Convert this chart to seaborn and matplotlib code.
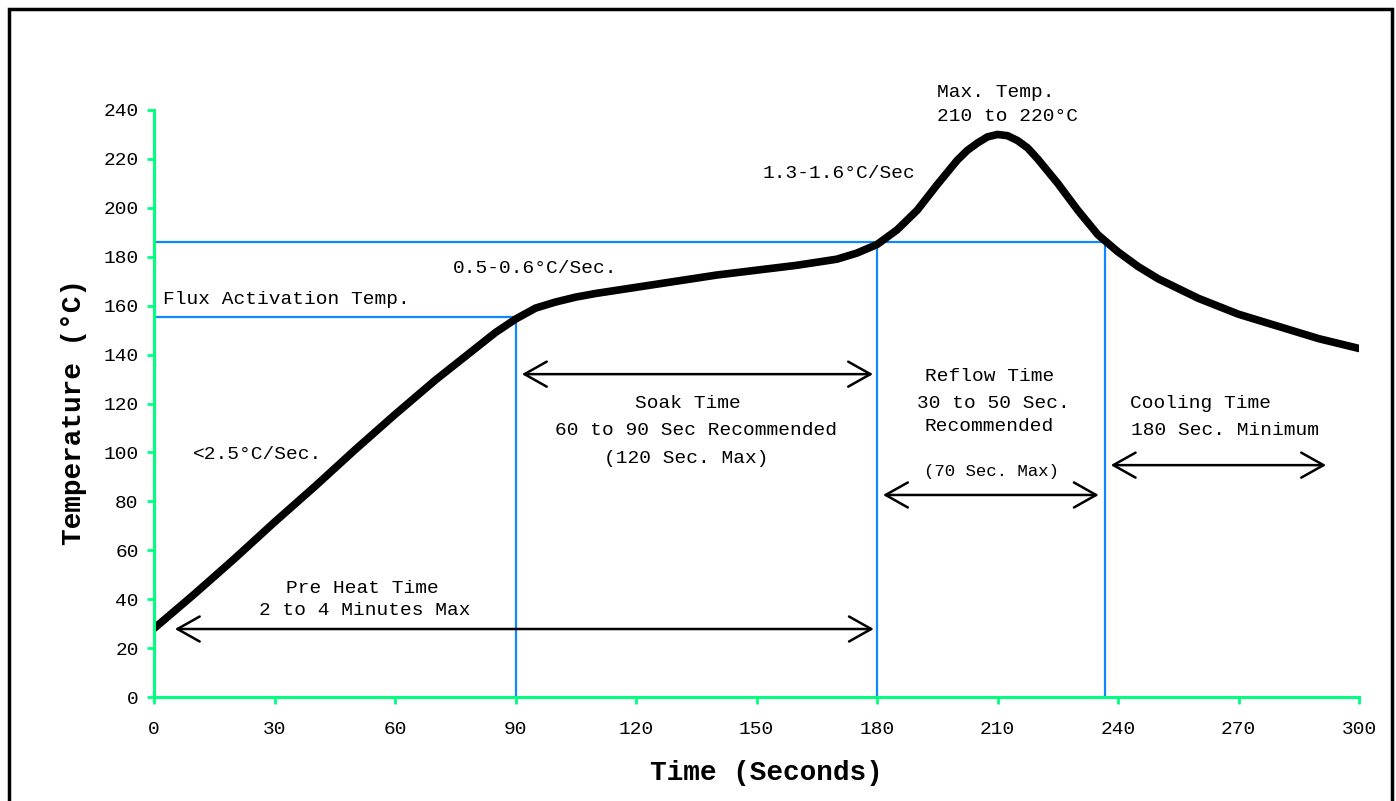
import matplotlib
matplotlib.use("Agg")
import matplotlib.pyplot as plt
import seaborn as sns
from matplotlib.patches import Rectangle

# Reflow profile (time in s, temperature in C)
time_s = [0, 10, 20, 30, 40, 50, 60, 70, 80, 85, 90, 95, 100, 105, 110, 120,
          130, 140, 150, 160, 170, 175, 180, 185, 190, 195, 200, 202.5, 205,
          207.5, 210, 212.5, 215, 217.5, 220, 225, 230, 235, 240, 245, 250,
          260, 270, 280, 290, 300]
temp_c = [28, 42, 56.5, 71.5, 86, 101, 115.5, 129.5, 142.5, 149, 154.5, 159,
          161.5, 163.5, 165, 167.5, 170, 172.5, 174.5, 176.5, 179, 181.5, 185,
          191, 199, 209.5, 219.5, 223.5, 226.5, 229, 230, 229.5, 227.5, 224.5,
          220, 210, 199, 189, 182, 176, 171, 163, 156.5, 151.5, 146.5, 142.5]

x_ticks = [0, 30, 60, 90, 120, 150, 180, 210, 240, 270, 300]
y_ticks = list(range(0, 241, 20))

# guide lines
flux_temp = 155.5
flux_time = 90
reflow_temp = 186
reflow_start = 180
reflow_end = 236.7

# double arrows: (y, x_start, x_end)
arrows = [
    (27.8, 5.2, 179.2),    # pre heat
    (132, 91.6, 179),      # soak
    (82.6, 181.5, 235.2),  # reflow
    (94.8, 238.2, 291.8),  # cooling
]

GREEN = "#00FF80"
BLUE = "#0F87FF"

sns.set_style("white")
plt.rcParams["font.family"] = ["Liberation Mono", "DejaVu Sans Mono"]
plt.rcParams["text.color"] = "black"
plt.rcParams["axes.labelcolor"] = "black"

fig = plt.figure(figsize=(13.96, 8.01), dpi=100)
ax = fig.add_axes([154 / 1396, 1 - 697 / 801, 1205 / 1396, 587 / 801])

# blue guide lines
ax.plot([0, flux_time], [flux_temp, flux_temp], color=BLUE, lw=1.6)
ax.plot([flux_time, flux_time], [0, flux_temp], color=BLUE, lw=1.6)
ax.plot([0, reflow_end], [reflow_temp, reflow_temp], color=BLUE, lw=1.6)
ax.plot([reflow_start, reflow_start], [0, reflow_temp], color=BLUE, lw=1.6)
ax.plot([reflow_end, reflow_end], [0, reflow_temp], color=BLUE, lw=1.6)

# profile curve
sns.lineplot(x=time_s, y=temp_c, ax=ax, color="black", lw=5.5, sort=False,
             solid_joinstyle="round")

for y, x0, x1 in arrows:
    ax.annotate("", xy=(x1, y), xytext=(x0, y),
                arrowprops=dict(arrowstyle="<->,head_length=0.8,head_width=0.45",
                                mutation_scale=20, lw=1.8, color="black",
                                shrinkA=0, shrinkB=0))

fs = 14
ax.text(195, 247, "Max. Temp.", fontsize=fs, ha="left", va="center")
ax.text(195, 237.5, "210 to 220°C", fontsize=fs, ha="left", va="center")
ax.text(151.4, 214, "1.3-1.6°C/Sec", fontsize=fs, ha="left", va="center")
ax.text(74.4, 175, "0.5-0.6°C/Sec.", fontsize=fs, ha="left", va="center")
ax.text(2.2, 162.7, "Flux Activation Temp.", fontsize=fs, ha="left", va="center")
ax.text(9.7, 99.3, "<2.5°C/Sec.", fontsize=fs, ha="left", va="center")

ax.text(133, 119.8, "Soak Time", fontsize=fs, ha="center", va="center")
ax.text(135, 109, "60 to 90 Sec Recommended", fontsize=fs, ha="center", va="center")
ax.text(132.5, 97.7, "(120 Sec. Max)", fontsize=fs, ha="center", va="center")

ax.text(208, 131.2, "Reflow Time", fontsize=fs, ha="center", va="center")
ax.text(209, 120.2, "30 to 50 Sec.", fontsize=fs, ha="center", va="center")
ax.text(208, 110.8, "Recommended", fontsize=fs, ha="center", va="center")
ax.text(208.5, 92, "(70 Sec. Max)", fontsize=12.5, ha="center", va="center")

ax.text(243, 120.2, "Cooling Time", fontsize=fs, ha="left", va="center")
ax.text(243.3, 109, "180 Sec. Minimum", fontsize=fs, ha="left", va="center")

ax.text(52, 44.2, "Pre Heat Time", fontsize=fs, ha="center", va="center")
ax.text(52.5, 35.2, "2 to 4 Minutes Max", fontsize=fs, ha="center", va="center")

ax.set_xlim(0, 300)
ax.set_ylim(0, 240)
ax.set_xticks(x_ticks)
ax.set_yticks(y_ticks)
ax.tick_params(axis="x", bottom=True, direction="out", length=5, width=2,
               color=GREEN, pad=12.5, labelsize=fs, labelcolor="black")
ax.tick_params(axis="y", left=True, direction="out", length=5, width=2,
               color=GREEN, pad=6, labelsize=fs, labelcolor="black")

for side in ["top", "right"]:
    ax.spines[side].set_visible(False)
for side in ["left", "bottom"]:
    ax.spines[side].set_color(GREEN)
    ax.spines[side].set_linewidth(2.2)

ax.set_xlabel("Time (Seconds)", fontsize=20, fontweight="bold")
ax.set_ylabel("Temperature (°C)", fontsize=20, fontweight="bold")
ax.xaxis.set_label_coords(0.508, -0.107)
ax.yaxis.set_label_coords(-0.056, 0.486)

# black frame around the whole picture
fig.add_artist(Rectangle((9 / 1396, -0.02), (1392 - 9) / 1396, 1.02 - 9 / 801,
                         transform=fig.transFigure, fill=False,
                         edgecolor="black", lw=2.5))

fig.savefig("out.png", dpi=100)
